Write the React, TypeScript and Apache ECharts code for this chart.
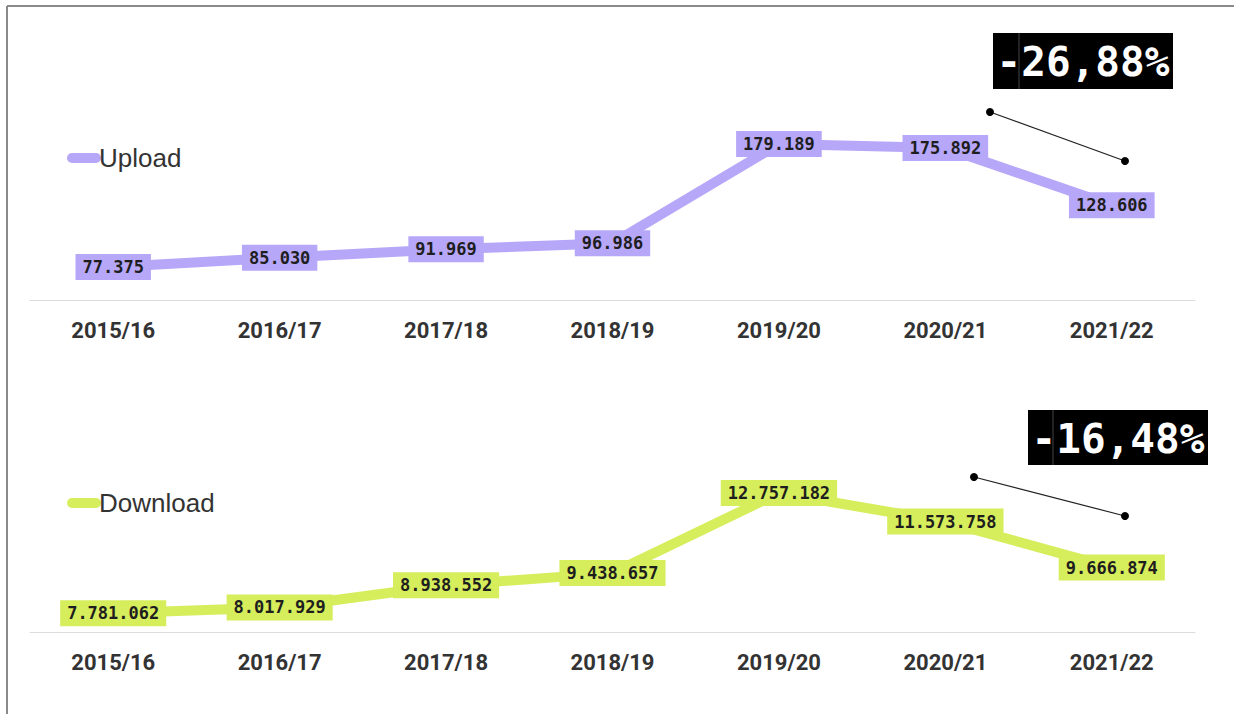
import React, { useEffect, useRef } from "react";
import * as echarts from "echarts";

const categories = ["2015/16", "2016/17", "2017/18", "2018/19", "2019/20", "2020/21", "2021/22"];
const uploadValues = [77375, 85030, 91969, 96986, 179189, 175892, 128606];
const downloadValues = [7781062, 8017929, 8938552, 9438657, 12757182, 11573758, 9666874];
const uploadChange = "-26,88%";
const downloadChange = "-16,48%";

const PURPLE = "#b7a7f8";
const GREEN = "#d6ed5c";

const fmt = (v: number) => String(v).replace(/\B(?=(\d{3})+(?!\d))/g, ".");

const legendIcon = "path://M5,0 L29,0 A5,5 0 0 1 29,10 L5,10 A5,5 0 0 1 5,0 Z";

function annotation(boxX: number, boxY: number, boxW: number, boxH: number, sepX: number, text: string,
  x1: number, y1: number, x2: number, y2: number) {
  return [
    { type: "rect", shape: { x: boxX, y: boxY, width: boxW, height: boxH }, style: { fill: "#000" } },
    { type: "line", shape: { x1: sepX, y1: boxY, x2: sepX, y2: boxY + boxH }, style: { stroke: "#444", lineWidth: 1 } },
    {
      type: "text", x: boxX + boxW / 2, y: boxY + boxH / 2 + 1,
      style: { text, fill: "#fff", font: "bold 41px 'DejaVu Sans Mono'", textAlign: "center", textVerticalAlign: "middle" },
    },
    { type: "line", shape: { x1, y1, x2, y2 }, style: { stroke: "#222", lineWidth: 1.2 } },
    { type: "circle", shape: { cx: x1, cy: y1, r: 4 }, style: { fill: "#000" } },
    { type: "circle", shape: { cx: x2, cy: y2, r: 4 }, style: { fill: "#000" } },
  ];
}

export default function App() {
  const ref = useRef<HTMLDivElement>(null);
  useEffect(() => {
    if (!ref.current) return;
    const chart = echarts.init(ref.current, null, { renderer: "svg" });
    const xAxisCommon = {
      type: "category" as const,
      data: categories,
      axisLine: { lineStyle: { color: "#dcdcdc", width: 1 } },
      axisTick: { show: false },
      axisLabel: { color: "#333", fontSize: 22, fontWeight: "bold", fontFamily: "Roboto", margin: 19 },
    };
    const labelCommon = (bg: string) => ({
      show: true,
      position: "inside",
      formatter: (p: any) => fmt(p.value),
      backgroundColor: bg,
      padding: [5, 7, 4, 7],
      color: "#1e1e1e",
      fontFamily: "DejaVu Sans Mono",
      fontWeight: "bold",
      fontSize: 17,
    });
    const legendCommon = {
      left: 62, icon: legendIcon, itemWidth: 34, itemHeight: 10, itemGap: 0,
      textStyle: { fontSize: 26, color: "#333", fontFamily: "Liberation Sans", padding: [0, 0, 0, -7] },
    };
    chart.setOption({
      animation: false,
      backgroundColor: "#fff",
      grid: [
        { left: 30, width: 1165, top: 119, height: 181 },
        { left: 30, width: 1165, top: 463, height: 169 },
      ],
      xAxis: [
        { ...xAxisCommon, gridIndex: 0 },
        { ...xAxisCommon, gridIndex: 1 },
      ],
      yAxis: [
        { type: "value", gridIndex: 0, min: 50000, max: 200000, show: false, splitLine: { show: false } },
        { type: "value", gridIndex: 1, min: 7000000, max: 14000000, show: false, splitLine: { show: false } },
      ],
      legend: [
        { ...legendCommon, data: ["Upload"], top: 140 },
        { ...legendCommon, data: ["Download"], top: 485 },
      ],
      series: [
        {
          name: "Upload", type: "line", xAxisIndex: 0, yAxisIndex: 0, data: uploadValues,
          symbol: "circle", symbolSize: 8, itemStyle: { color: PURPLE },
          lineStyle: { color: PURPLE, width: 10 }, label: labelCommon(PURPLE),
        },
        {
          name: "Download", type: "line", xAxisIndex: 1, yAxisIndex: 1, data: downloadValues,
          symbol: "circle", symbolSize: 8, itemStyle: { color: GREEN },
          lineStyle: { color: GREEN, width: 10 }, label: labelCommon(GREEN),
        },
      ],
      graphic: [
        { type: "line", shape: { x1: 7, y1: 6, x2: 1234, y2: 6 }, style: { stroke: "#8a8a8a", lineWidth: 2 } },
        { type: "line", shape: { x1: 7, y1: 6, x2: 7, y2: 714 }, style: { stroke: "#8a8a8a", lineWidth: 2 } },
        ...annotation(993, 33, 180, 56, 1019, uploadChange, 990, 112, 1125, 161),
        ...annotation(1028, 410, 180, 55, 1053, downloadChange, 974, 477, 1125, 516),
      ],
    });
    return () => chart.dispose();
  }, []);
  return (
    <div style={{ position: "absolute", left: 0, top: 0, width: 1234, height: 714, background: "#fff" }}>
      <div ref={ref} style={{ width: 1234, height: 714 }} />
    </div>
  );
}
